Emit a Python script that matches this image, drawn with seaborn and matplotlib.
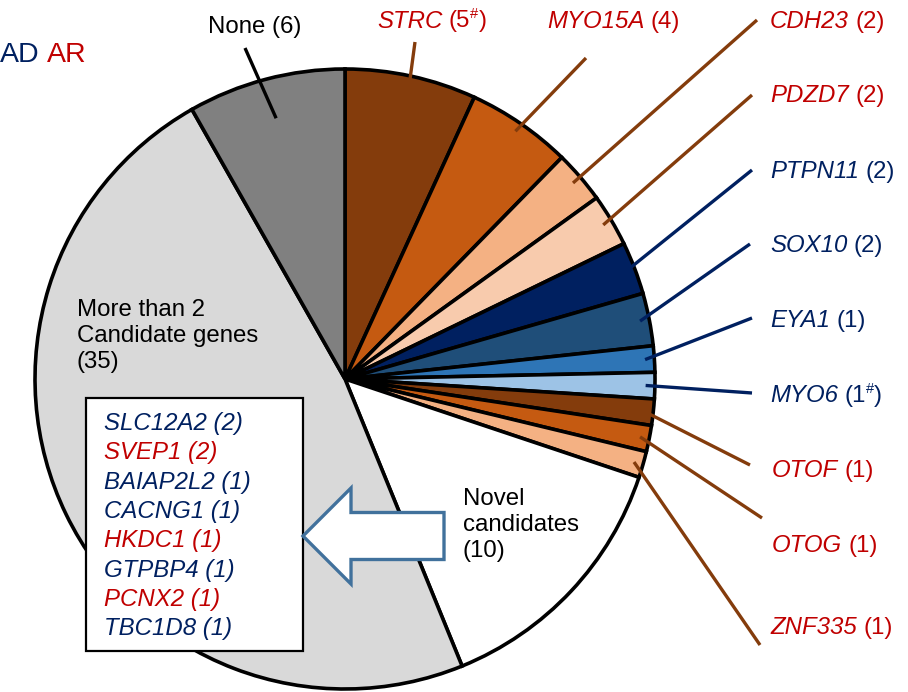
import numpy as np
import pandas as pd
import matplotlib
matplotlib.use('Agg')
import matplotlib.pyplot as plt
import matplotlib.patches as mpatches
import seaborn as sns

# known genes, in clockwise order from 12 o'clock
genes = ['STRC', 'MYO15A', 'CDH23', 'PDZD7', 'PTPN11', 'SOX10', 'EYA1', 'MYO6', 'OTOF', 'OTOG', 'ZNF335']
gene_counts = [5, 4, 2, 2, 2, 2, 1, 1, 1, 1, 1]
gene_mode = ['AR', 'AR', 'AR', 'AR', 'AD', 'AD', 'AD', 'AD', 'AR', 'AR', 'AR']
gene_hash = [True, False, False, False, False, False, False, True, False, False, False]

novel_count = 10
more_count = 35
none_count = 6

# novel candidate genes listed in the box
novel_genes = ['SLC12A2', 'SVEP1', 'BAIAP2L2', 'CACNG1', 'HKDC1', 'GTPBP4', 'PCNX2', 'TBC1D8']
novel_counts = [2, 2, 1, 1, 1, 1, 1, 1]
novel_mode = ['AD', 'AR', 'AD', 'AD', 'AR', 'AD', 'AR', 'AD']

df = pd.DataFrame({'gene': genes, 'count': gene_counts, 'mode': gene_mode, 'hash': gene_hash})

text_col = {'AD': '#002060', 'AR': '#C00000'}
line_col = {'AD': '#002060', 'AR': '#843C0C'}
wedge_colors = sns.color_palette(['#843C0C', '#C55A11', '#F4B183', '#F8CBAD',
                                  '#002060', '#1F4E79', '#2E75B6', '#9DC3E6',
                                  '#843C0C', '#C55A11', '#F4B183',
                                  '#FFFFFF', '#D9D9D9', '#808080'])

sns.set_style('white')
plt.rcParams['font.family'] = ['Liberation Sans', 'DejaVu Sans']
plt.rcParams['text.color'] = 'black'
FS = 17.3

fig = plt.figure(figsize=(9.08, 6.92), dpi=100)
ax = fig.add_axes([0, 0, 1, 1])

sizes = list(df['count']) + [novel_count, more_count, none_count]
cx, cy, R = 345, 379, 310
wedges, _ = ax.pie(sizes, colors=wedge_colors, startangle=-90, counterclock=True,
                   center=(cx, cy), radius=R,
                   wedgeprops=dict(edgecolor='black', linewidth=2.6))
ax.set_xlim(0, 908)
ax.set_ylim(692, 0)
ax.axis('off')

renderer = fig.canvas.get_renderer()


def put_pieces(x, y, pieces):
    for txt, kw in pieces:
        kw = dict(kw)
        dy = kw.pop('dy', 0)
        gap = kw.pop('gap', 0)
        x += gap
        t = ax.text(x, y + dy, txt, va='baseline', ha='left', **kw)
        x += t.get_window_extent(renderer).width


def mid_point(w, frac):
    a = np.deg2rad((w.theta1 + w.theta2) / 2)
    return cx + frac * R * np.cos(a), cy + frac * R * np.sin(a)


# label layout: text x, baseline y, leader end
label_xy = [(377, 27.5), (547, 28), (770, 28), (770, 102), (770, 178), (770, 252),
            (770, 327), (770, 402), (772, 477), (772, 552), (770, 634)]
leader_end = [(415, 42), (586, 58), (757, 20), (752, 95), (752, 170), (750, 244),
              (752, 318), (752, 393), (750, 465), (762, 518), (760, 645)]

for i, row in df.iterrows():
    x0, y0 = mid_point(wedges[i], 0.97)
    x1, y1 = leader_end[i]
    ax.plot([x0, x1], [y0, y1], color=line_col[row['mode']], lw=2.4,
            solid_capstyle='butt', zorder=3)
    col = text_col[row['mode']]
    pieces = [(row['gene'], dict(color=col, fontsize=FS, style='italic'))]
    if row['hash']:
        pieces += [('(%d' % row['count'], dict(color=col, fontsize=FS, gap=6.5)),
                   ('#', dict(color=col, fontsize=10.5, dy=-9)),
                   (')', dict(color=col, fontsize=FS))]
    else:
        pieces += [('(%d)' % row['count'], dict(color=col, fontsize=FS, gap=6.5))]
    x, y = label_xy[i]
    put_pieces(x, y, pieces)

# None label
x0, y0 = mid_point(wedges[-1], 0.87)
ax.plot([x0, 245], [y0, 48], color='black', lw=2.4, solid_capstyle='butt', zorder=3)
ax.text(208, 33, 'None (%d)' % none_count, fontsize=FS, va='baseline')

# inner labels (baseline of the last line)
ax.text(77, 368, 'More than 2\nCandidate genes\n(%d)' % more_count, fontsize=FS,
        va='baseline', linespacing=1.23)
ax.text(463, 557, 'Novel\ncandidates\n(%d)' % novel_count, fontsize=FS,
        va='baseline', linespacing=1.23)

# legend text
put_pieces(0, 62, [('AD', dict(color=text_col['AD'], fontsize=20.5)),
                   ('AR', dict(color=text_col['AR'], fontsize=20.5, gap=7))])

# box with novel candidate genes
ax.add_patch(mpatches.Rectangle((86, 398), 217, 253, facecolor='white',
                                edgecolor='black', lw=1.6, zorder=4))
for k, (g, c, m) in enumerate(zip(novel_genes, novel_counts, novel_mode)):
    ax.text(104, 430 + k * 29.3, '%s (%d)' % (g, c), color=text_col[m], fontsize=FS,
            style='italic', va='baseline', zorder=5)

# block arrow
ax.add_patch(mpatches.FancyArrow(444, 536, -141, 0, width=47, head_width=96,
                                 head_length=48, length_includes_head=True,
                                 facecolor='white', edgecolor='#41719C', lw=2.4,
                                 zorder=4))

fig.savefig('out.png', dpi=100)
